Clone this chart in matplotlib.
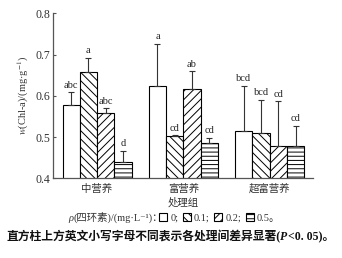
import matplotlib
matplotlib.use("Agg")
import matplotlib.pyplot as plt
from matplotlib.patches import Patch
import numpy as np

FAM = ['Liberation Serif', 'Noto Sans CJK SC', 'DejaVu Serif']
plt.rcParams['font.family'] = FAM
plt.rcParams['mathtext.fontset'] = 'stix'
plt.rcParams['hatch.linewidth'] = 0.7

groups = ["中营养", "富营养", "超富营养"]
levels = ["0", "0.1", "0.2", "0.5"]
means = {
    "0":   [0.579, 0.623, 0.515],
    "0.1": [0.658, 0.502, 0.509],
    "0.2": [0.558, 0.616, 0.478],
    "0.5": [0.439, 0.485, 0.478],
}
errs = {
    "0":   [0.030, 0.103, 0.110],
    "0.1": [0.035, 0.002, 0.081],
    "0.2": [0.012, 0.044, 0.109],
    "0.5": [0.028, 0.013, 0.050],
}
letters = {
    "0":   ["abc", "a", "bcd"],
    "0.1": ["a", "cd", "bcd"],
    "0.2": ["abc", "ab", "cd"],
    "0.5": ["d", "cd", "cd"],
}
hatches = {"0": "", "0.1": "\\\\\\\\", "0.2": "////", "0.5": "----"}
legend_labels = ["0;", "0.1;", "0.2;", "0.5。"]

fig = plt.figure(figsize=(3.42, 2.58), dpi=100)
ax = fig.add_axes([0.155, 0.309, 0.76, 0.639])

x = np.arange(len(groups))
w = 0.2
for i, lv in enumerate(levels):
    pos = x + (i - 1.5) * w
    ax.bar(pos, means[lv], width=w, bottom=0, color="white", edgecolor="black",
           linewidth=0.8, hatch=hatches[lv], zorder=2)
    ax.errorbar(pos, means[lv], yerr=[np.zeros(3), errs[lv]], fmt="none",
                ecolor="#333333", elinewidth=0.8, capsize=2, capthick=0.8, zorder=3)
    for p, m, e, t in zip(pos, means[lv], errs[lv], letters[lv]):
        ax.text(p, m + e + 0.006, t, ha="center", va="bottom", fontsize=7.5,
                color="#222222")

ax.set_ylim(0.4, 0.8)
ax.set_xlim(-0.51, 2.5)
ax.set_yticks([0.4, 0.5, 0.6, 0.7, 0.8])
ax.set_yticklabels(["0.4", "0.5", "0.6", "0.7", "0.8"], fontsize=8.5, color="#333333")
ax.set_xticks(x)
ax.set_xticklabels(groups, fontsize=7.5, color="#333333")
ax.tick_params(axis="x", length=0, pad=4)
ax.tick_params(axis="y", direction="in", length=2.5, width=0.8, color="#555555", pad=2)
for s in ["top", "right"]:
    ax.spines[s].set_visible(False)
for s in ["left", "bottom"]:
    ax.spines[s].set_color("#555555")
    ax.spines[s].set_linewidth(0.9)

ax.set_ylabel(r"$w$(Chl-a)/(mg·g$^{-1}$)", fontsize=7.5, color="#333333", labelpad=3)
ax.set_xlabel("处理组", fontsize=7.5, color="#333333", labelpad=2)

# legend prefix: italic rho + rest, chained
t1 = fig.text(0.200, 0.143, "ρ", fontsize=7.5, style="italic", color="#333333",
              ha="left", va="baseline", family=FAM)
t2 = ax.annotate("(四环素)/(mg·L⁻¹)：", xy=(1, 0), xycoords=t1, va="bottom", ha="left",
                 fontsize=7.5, color="#333333", annotation_clip=False, family=FAM)
handles = [Patch(facecolor="white", edgecolor="black", linewidth=0.8, hatch=hatches[lv])
           for lv in levels]
fig.legend(handles, legend_labels, loc="center left", bbox_to_anchor=(0.466, 0.155),
           ncol=4, frameon=False, fontsize=7.5, handlelength=0.75, handleheight=0.75,
           handletextpad=0.3, columnspacing=0.45, borderpad=0, borderaxespad=0,
           labelcolor="#333333")

# caption, chained pieces
c1 = fig.text(0.018, 0.068, "直方柱上方英文小写字母不同表示各处理间差异显著(", fontsize=8.5,
              fontweight="bold", ha="left", va="baseline", color="#111111", family=FAM)
c2 = ax.annotate("P", xy=(1, 0), xycoords=c1, va="bottom", ha="left", fontsize=8.5,
                 fontweight="bold", style="italic", color="#111111",
                 annotation_clip=False, family=FAM)
c3 = ax.annotate("<0. 05)。", xy=(1, 0), xycoords=c2, va="bottom", ha="left", fontsize=8.5,
                 fontweight="bold", color="#111111", annotation_clip=False, family=FAM)

fig.savefig("out.png", dpi=100)
